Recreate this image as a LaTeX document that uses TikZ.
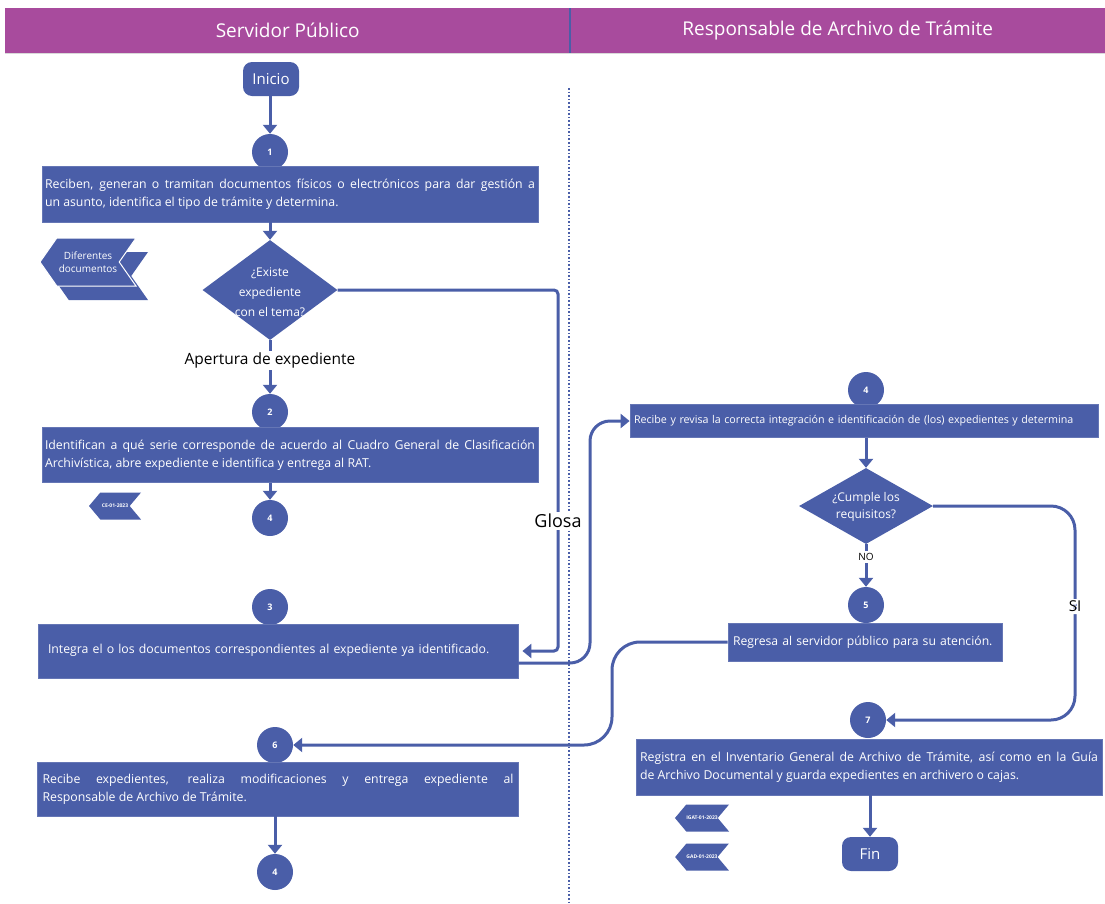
\documentclass[tikz,border=0pt]{standalone}
\usepackage{fontspec}
\setmainfont{Open Sans}
\usetikzlibrary{arrows.meta,shapes.geometric,shapes.symbols}
\definecolor{boxblue}{HTML}{4A5EA8}
\definecolor{lanehead}{HTML}{A84B9D}

\begin{document}
\begin{tikzpicture}[x=1pt,y=-1pt,
  stepbox/.style={rectangle, fill=boxblue, draw=boxblue!85!white, line width=0.8pt,
    text=white, inner xsep=4pt, inner ysep=2pt, align=justify,
    font=\fontsize{12.3}{18}\selectfont},
  num/.style={circle, fill=boxblue, text=white, minimum size=36pt, inner sep=0pt,
    font=\fontsize{9}{10}\selectfont\bfseries},
  terminal/.style={rectangle, rounded corners=9pt, fill=boxblue, text=white,
    minimum width=56pt, minimum height=34pt, font=\fontsize{15}{17}\selectfont},
  decision/.style={diamond, fill=boxblue, inner sep=0pt},
  dtext/.style={text=white, align=center, inner sep=0pt},
  flow/.style={draw=boxblue, line width=3pt, -{Triangle[length=9pt,width=14pt]}},
  tag/.style={signal, signal to=west, signal from=east, signal pointer angle=100,
    fill=boxblue, text=white, inner sep=0pt, font=\fontsize{5}{6}\selectfont\bfseries},
  lbl/.style={fill=white, text=black, inner sep=2pt},
  head/.style={rectangle, fill=lanehead, text=white, minimum height=45pt,
    anchor=north west, font=\fontsize{19}{22}\selectfont},
]
\useasboundingbox (0,0) rectangle (1105,903);

% lane headers
\node[head, minimum width=565pt] (hdrL) at (5,8) {Servidor Público};
\node[head, minimum width=535pt] (hdrR) at (570,8) {Responsable de Archivo de Trámite};
\draw[boxblue, line width=2pt] (hdrL.north east) -- (hdrL.south east);
\draw[black!15, line width=0.6pt] (hdrL.south west) -- (hdrR.south east);

% lane separator
\coordinate (laneTop) at (569,88);
\coordinate (laneBot) at (569,903);
\draw[boxblue, dotted, line width=1.6pt] (laneTop) -- (laneBot);

% ---------- Servidor Público ----------
\node[terminal] (ini) at (271,79) {Inicio};

\node[num] (c1) at (270,152) {1};
\node[stepbox, text width=490pt, minimum height=56pt, inner xsep=3pt] (b1) at (290,194)
  {Reciben, generan o tramitan documentos físicos o electrónicos para dar gestión a\linebreak un asunto, identifica el tipo de trámite y determina.};

\node[decision, minimum width=135pt, minimum height=100pt] (d1) at (270,290) {};
\node[dtext, font=\fontsize{12}{20}\selectfont] (d1t) at (270,292)
  {¿Existe\\expediente\\con el tema?};

% "Diferentes documentos" stacked tag
\node[tag, minimum width=96pt, minimum height=48pt, signal pointer angle=110] (dd2) at (100,276) {};
\node[tag, draw=white, line width=1pt, minimum width=96pt, minimum height=48pt,
  signal pointer angle=110, font=\fontsize{10}{13}\selectfont, align=center] (dd1) at (88,262)
  {Diferentes\\documentos};

\node[num] (c2) at (270,412) {2};
\node[stepbox, text width=490pt, minimum height=55pt, inner xsep=3pt] (b2) at (290,455)
  {Identifican a qué serie corresponde de acuerdo al Cuadro General de Clasificación\linebreak Archivística, abre expediente e identifica y entrega al RAT.};

\node[num] (c4a) at (270,518) {4};
\node[tag, minimum width=52pt, minimum height=27pt] (tce) at (115,506) {CE-01-2023};

\node[num] (c3) at (270,607) {3};
\node[stepbox, text width=460pt, minimum height=54pt, inner xsep=10pt, align=left] (b3) at (278,651)
  {\raisebox{5pt}{Integra el o los documentos correspondientes al expediente ya identificado.}};

\node[num] (c6) at (275,745) {6};
\node[stepbox, text width=471pt, minimum height=54pt, inner xsep=5pt] (b6) at (278,789)
  {Recibe expedientes, realiza modificaciones y entrega expediente al\linebreak Responsable de Archivo de Trámite.};

\node[num] (c4b) at (275,872) {4};

% ---------- Responsable de Archivo de Trámite ----------
\node[num] (c4r) at (866,390) {4};
\node[stepbox, text width=460pt, minimum height=33pt, align=left,
  font=\fontsize{10.7}{13}\selectfont] (b4) at (864,421)
  {Recibe y revisa la correcta integración e identificación de (los) expedientes y determina};

\node[decision, minimum width=134pt, minimum height=76pt] (d2) at (866,506) {};
\node[dtext, font=\fontsize{12}{17}\selectfont] (d2t) at (866,507)
  {¿Cumple los\\requisitos?};

\node[num] (c5) at (866,605) {5};
\node[stepbox, text width=264pt, minimum height=38pt, align=left, inner xsep=5pt,
  font=\fontsize{12.2}{14}\selectfont] (b5) at (865,642)
  {Regresa al servidor público para su atención.};

\node[num] (c7) at (868,720) {7};
\node[stepbox, text width=458pt, minimum height=56pt] (b7) at (869,767)
  {Registra en el Inventario General de Archivo de Trámite, así como en la Guía\linebreak de Archivo Documental y guarda expedientes en archivero o cajas.};

\node[terminal] (fin) at (870,854) {Fin};

\node[tag, minimum width=52pt, minimum height=27pt] (tgat) at (702,818) {IGAT-01-2023};
\node[tag, minimum width=52pt, minimum height=27pt] (tgad) at (702,857) {GAD-01-2023};

% ---------- connectors ----------
\draw[flow] (ini.south -| c1.north) -- (c1.north);
\draw[flow] (b1.south -| d1.north) -- (d1.north);
\draw[flow] (d1.south) -- node[lbl, pos=0.38, font=\fontsize{15.5}{18}\selectfont] {Apertura de expediente} (c2.north);
\draw[flow] (b2.south -| c4a.north) -- (c4a.north);

% Glosa: existing file goes straight to integration
\coordinate (gx) at (558,290);
\coordinate (gy) at (gx |- b3.east);
\draw[flow, rounded corners=4pt, shorten >=4pt] (d1.east) -- (gx) -- node[lbl, pos=0.64, font=\fontsize{18}{20}\selectfont] {Glosa} (gy) -- (b3.east);

% integration -> review
\coordinate (o3) at ([yshift=-12pt]b3.east);
\coordinate (rx) at (590,0);
\draw[flow, rounded corners=20pt] (o3) -- (o3 -| rx) -- (rx |- b4.west) -- (b4.west);

\draw[flow] (b4.south -| d2.north) -- (d2.north);
\draw[flow] (d2.south) -- node[lbl, pos=0.3, font=\fontsize{10}{11}\selectfont] {NO} (c5.north);

% SI branch
\coordinate (sx) at (1075,0);
\draw[flow, rounded corners=24pt] (d2.east) -- (d2.east -| sx) -- node[lbl, pos=0.47, font=\fontsize{15}{17}\selectfont] {SI} (sx |- c7.east) -- (c7.east);

% return to public servant
\coordinate (lx) at (612,0);
\draw[flow, rounded corners=28pt] (b5.west) -- (b5.west -| lx) -- (lx |- c6.east) -- (c6.east);

\draw[flow] (b6.south -| c4b.north) -- (c4b.north);
\draw[flow] (b7.south -| fin.north) -- (fin.north);
\end{tikzpicture}
\end{document}
